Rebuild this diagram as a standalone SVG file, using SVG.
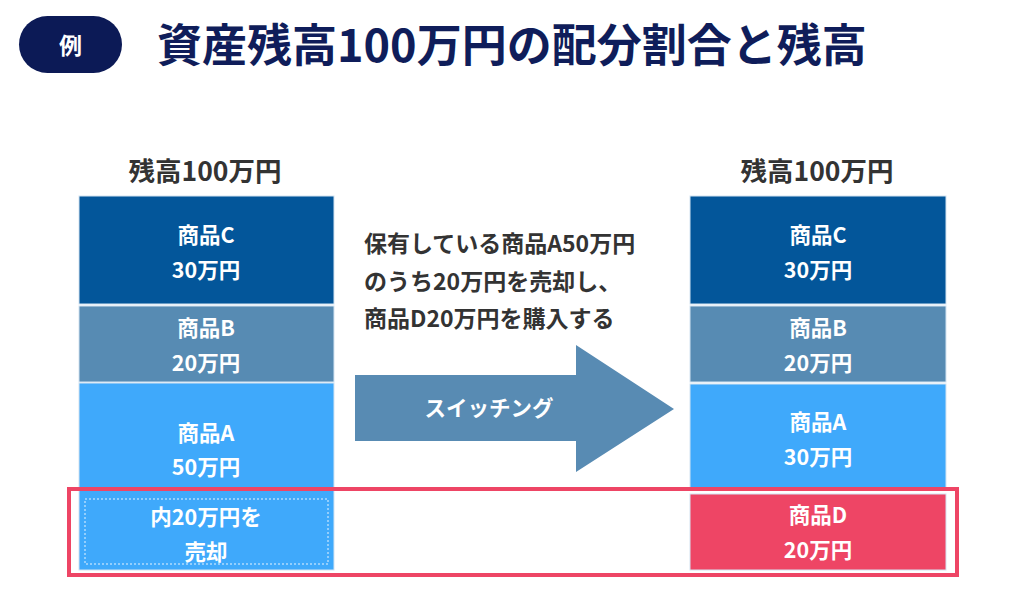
<svg xmlns="http://www.w3.org/2000/svg" width="1024" height="616" viewBox="0 0 1024 616">
<style>
text{font-family:"Noto Sans CJK JP","Noto Sans",sans-serif;font-weight:700;}
.lbl{fill:#ffffff;font-size:21.5px;text-anchor:middle;dominant-baseline:central;}
.head{fill:#333333;font-size:26.5px;text-anchor:middle;dominant-baseline:central;}
.desc{fill:#333333;font-size:23px;}
.bar{stroke:#d4e4f2;stroke-width:1;}
</style>
<rect width="1024" height="616" fill="#ffffff"/>
<g id="header">
<rect x="19" y="16" width="103" height="57" rx="28.5" fill="#0c1a56"/>
<text x="70.5" y="44" fill="#ffffff" font-size="23" text-anchor="middle" dominant-baseline="central">例</text>
<text x="157" y="62" fill="#0f1d5a" font-size="45">資産残高100万円の配分割合と残高</text>
</g>
<g id="left-column">
<text class="head" x="205" y="169">残高100万円</text>
<g id="left-C"><rect class="bar" x="79" y="196" width="255" height="108" fill="#03569a"/>
<text class="lbl" x="206" y="233">商品C</text><text class="lbl" x="206" y="268">30万円</text></g>
<g id="left-B"><rect class="bar" x="79" y="306" width="255" height="76" fill="#578bb3"/>
<text class="lbl" x="206" y="326">商品B</text><text class="lbl" x="206" y="361">20万円</text></g>
<g id="left-A"><rect class="bar" x="79" y="383" width="255" height="187" fill="#3fa9fb"/>
<text class="lbl" x="206" y="431">商品A</text><text class="lbl" x="206" y="465">50万円</text>
<rect x="85" y="499" width="243" height="65" fill="none" stroke="#e6f3ff" stroke-width="1" stroke-dasharray="2,2"/>
<text class="lbl" x="206" y="515">内20万円を</text><text class="lbl" x="206" y="550">売却</text></g>
</g>
<g id="description">
<text class="desc" x="364" y="252">保有している商品A50万円</text>
<text class="desc" x="364" y="290">のうち20万円を売却し、</text>
<text class="desc" x="364" y="327">商品D20万円を購入する</text>
</g>
<g id="arrow">
<polygon points="355,375 576,375 576,345 674,409 576,472 576,441 355,441" fill="#588bb3"/>
<text class="lbl" x="489" y="406">スイッチング</text>
</g>
<g id="right-column">
<text class="head" x="817" y="169">残高100万円</text>
<g id="right-C"><rect class="bar" x="690" y="196" width="256" height="108" fill="#03569a"/>
<text class="lbl" x="818" y="233">商品C</text><text class="lbl" x="818" y="268">30万円</text></g>
<g id="right-B"><rect class="bar" x="690" y="306" width="256" height="76" fill="#578bb3"/>
<text class="lbl" x="818" y="326">商品B</text><text class="lbl" x="818" y="361">20万円</text></g>
<g id="right-A"><rect class="bar" x="690" y="384" width="256" height="104" fill="#3fa9fb"/>
<text class="lbl" x="818" y="420">商品A</text><text class="lbl" x="818" y="455">30万円</text></g>
<g id="right-D"><rect class="bar" x="690" y="494" width="256" height="76" fill="#ee4565"/>
<text class="lbl" x="818" y="513">商品D</text><text class="lbl" x="818" y="548">20万円</text></g>
</g>
<g id="highlight">
<rect x="69" y="489" width="888" height="86" fill="none" stroke="#ee4565" stroke-width="4"/>
</g>
</svg>
